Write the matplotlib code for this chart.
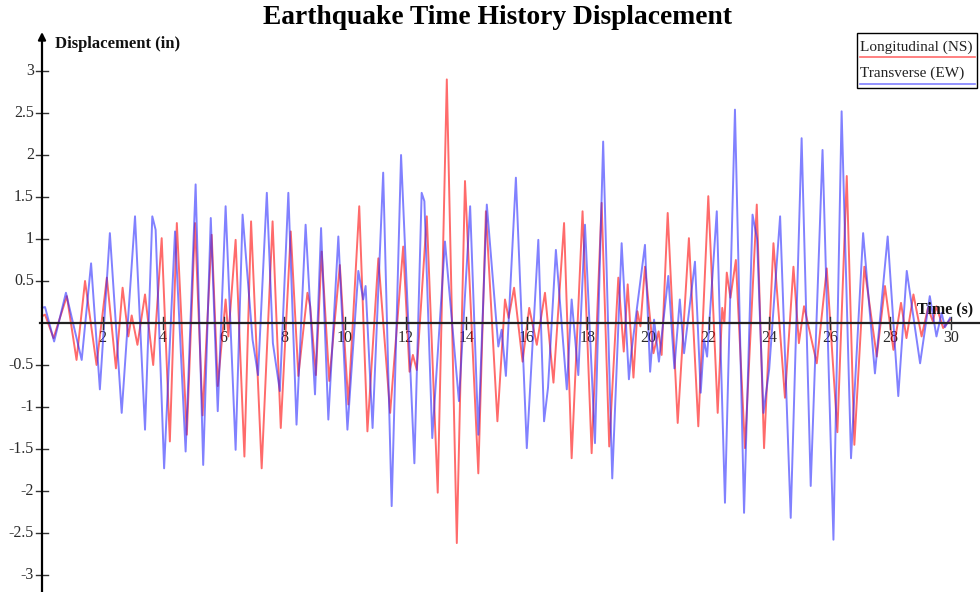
import matplotlib
matplotlib.use("Agg")
import matplotlib.pyplot as plt
from matplotlib.patches import Rectangle

# ---------------- data ----------------
ew_t = [0.0, 0.1, 0.4, 0.79, 1.31, 1.62, 1.91, 2.24, 2.63, 3.07,
        3.40, 3.64, 3.75, 4.03, 4.39, 4.74, 5.07, 5.32, 5.57, 5.80,
        6.06, 6.39, 6.62, 6.95, 7.13, 7.42, 7.62, 7.85, 8.13, 8.40,
        8.70, 9.01, 9.21, 9.45, 9.78, 10.08, 10.44, 10.60, 10.68, 10.91,
        11.26, 11.54, 11.85, 12.29, 12.53, 12.62, 12.88, 13.30, 13.76, 14.13,
        14.40, 14.68, 15.06, 15.17, 15.31, 15.64, 16.00, 16.38, 16.57, 16.70,
        16.96, 17.32, 17.48, 17.70, 17.92, 18.25, 18.52, 18.82, 19.13, 19.37,
        19.45, 19.90, 20.07, 20.20, 20.36, 20.67, 20.87, 21.05, 21.19, 21.55,
        21.74, 21.85, 21.95, 22.27, 22.54, 22.87, 23.17, 23.45, 23.60, 23.81,
        24.00, 24.36, 24.71, 25.07, 25.37, 25.76, 26.12, 26.39, 26.70, 27.10,
        27.49, 27.91, 28.26, 28.54, 28.98, 29.30, 29.52, 29.69, 29.80, 29.97]
ew_v = [0.18, 0.19, -0.22, 0.36, -0.44, 0.71, -0.79, 1.07, -1.07, 1.27,
        -1.27, 1.27, 1.11, -1.73, 1.09, -1.53, 1.65, -1.69, 1.25, -1.05,
        1.39, -1.51, 1.29, -0.20, -0.62, 1.55, -0.24, -0.81, 1.55, -1.21,
        1.17, -0.85, 1.13, -1.15, 1.03, -1.27, 0.62, 0.28, 0.44, -1.25,
        1.79, -2.18, 2.00, -1.67, 1.55, 1.45, -1.37, 0.97, -0.93, 1.39,
        -1.33, 1.41, -0.28, -0.08, -0.63, 1.73, -1.49, 0.99, -1.17, -0.77,
        0.87, -0.79, 0.28, -0.62, 1.17, -1.43, 2.16, -1.85, 0.95, -0.67,
        -0.35, 0.93, -0.58, 0.04, -0.46, 0.56, -0.54, 0.28, -0.36, 0.73,
        -0.83, -0.20, -0.40, 1.33, -2.14, 2.54, -2.26, 1.29, 1.00, -1.07,
        -0.55, 1.27, -2.32, 2.20, -1.94, 2.06, -2.58, 2.52, -1.61, 1.07,
        -0.60, 1.03, -0.87, 0.62, -0.48, 0.32, -0.16, 0.12, -0.05, 0.06]

ns_t = [0.0, 0.1, 0.38, 0.82, 1.14, 1.42, 1.80, 2.14, 2.44, 2.66,
        2.85, 2.96, 3.15, 3.40, 3.67, 3.95, 4.22, 4.45, 4.78, 5.05,
        5.30, 5.60, 5.80, 6.06, 6.15, 6.39, 6.68, 6.90, 7.25, 7.61,
        7.88, 8.21, 8.46, 8.76, 8.85, 9.04, 9.23, 9.48, 9.83, 10.11,
        10.47, 10.74, 11.10, 11.49, 11.92, 12.13, 12.24, 12.37, 12.70, 13.06,
        13.36, 13.69, 13.96, 14.40, 14.65, 15.03, 15.28, 15.40, 15.58, 15.86,
        16.08, 16.33, 16.60, 16.88, 17.23, 17.48, 17.84, 18.14, 18.47, 18.72,
        19.02, 19.20, 19.33, 19.52, 19.65, 19.75, 19.90, 20.18, 20.35, 20.45,
        20.65, 20.98, 21.35, 21.66, 21.99, 22.30, 22.45, 22.52, 22.60, 22.72,
        22.90, 23.20, 23.59, 23.83, 24.14, 24.52, 24.80, 24.98, 25.15, 25.57,
        25.90, 26.25, 26.56, 26.81, 27.14, 27.55, 27.82, 28.10, 28.35, 28.53,
        28.76, 29.03, 29.24, 29.40, 29.52, 29.74, 29.97]
ns_v = [0.08, 0.10, -0.18, 0.32, -0.44, 0.50, -0.50, 0.54, -0.54, 0.42,
        -0.16, 0.09, -0.26, 0.34, -0.50, 1.01, -1.41, 1.19, -1.33, 1.19,
        -1.10, 1.05, -0.75, 0.28, -0.16, 0.99, -1.59, 1.21, -1.73, 1.21,
        -1.25, 1.09, -0.63, 0.36, 0.20, -0.62, 0.85, -0.69, 0.69, -0.97,
        1.39, -1.29, 0.77, -1.07, 0.91, -0.58, -0.38, -0.56, 1.27, -2.02,
        2.90, -2.62, 1.69, -1.79, 1.33, -1.17, 0.28, 0.06, 0.42, -0.46,
        0.18, -0.26, 0.36, -0.71, 1.19, -1.61, 1.33, -1.55, 1.43, -1.47,
        0.54, -0.34, 0.46, -0.65, 0.14, -0.04, 0.67, -0.36, -0.10, -0.38,
        1.31, -1.19, 1.01, -1.23, 1.51, -1.07, 0.18, 0.00, 0.60, 0.30,
        0.75, -1.49, 1.41, -1.49, 0.95, -0.89, 0.67, -0.24, 0.20, -0.48,
        0.65, -1.30, 1.75, -1.45, 0.67, -0.40, 0.44, -0.32, 0.24, -0.18,
        0.34, -0.16, 0.18, 0.02, 0.20, -0.06, 0.04]

y_ticks = [3, 2.5, 2, 1.5, 1, 0.5, -0.5, -1, -1.5, -2, -2.5, -3]
y_tick_labels = ["3", "2.5", "2", "1.5", "1", "0.5", "-0.5", "-1", "-1.5", "-2", "-2.5", "-3"]
x_ticks = [2, 4, 6, 8, 10, 12, 14, 16, 18, 20, 22, 24, 26, 28, 30]
x_tick_labels = [str(v) for v in x_ticks]

title = "Earthquake Time History Displacement"
y_label = "Displacement (in)"
x_label = "Time (s)"
series_names = ["Longitudinal (NS)", "Transverse (EW)"]

# ---------------- figure ----------------
W, H = 980, 592
fig = plt.figure(figsize=(W / 100, H / 100), dpi=100)
ax = fig.add_axes([0, 0, 1, 1])
X0, XS = 42.0, 30.3     # pixel of t=0, pixels per second
Y0, YS = 323.0, 84.0    # pixel of v=0, pixels per inch
ax.set_xlim(-X0 / XS, (W - X0) / XS)
ax.set_ylim((Y0 - H) / YS, Y0 / YS)
ax.axis("off")

def pt(px):
    return (px - X0) / XS

def pv(py):
    return (Y0 - py) / YS

serif = ["Liberation Serif", "DejaVu Serif"]
red = (1.0, 0.0, 0.0, 0.58)
blue = (0.15, 0.15, 1.0, 0.58)

ax.plot(ns_t, ns_v, color=red, lw=1.4, zorder=3, solid_joinstyle="round")
ax.plot(ew_t, ew_v, color=blue, lw=1.4, zorder=4, solid_joinstyle="round")

# axes lines
ax.plot([pt(40), pt(979)], [0, 0], color="#222222", lw=1.6, zorder=5)
ax.annotate("", xy=(0, pv(32)), xytext=(0, pv(592)),
            arrowprops=dict(arrowstyle="-|>", color="black", lw=1.6,
                            mutation_scale=11, shrinkA=0, shrinkB=0), zorder=6)

# y ticks
for v, lab in zip(y_ticks, y_tick_labels):
    ax.plot([pt(36), pt(48)], [v, v], color="#333333", lw=1.0, zorder=5)
    ax.text(pt(34), v, lab, ha="right", va="center", fontsize=11.5,
            family=serif, color="#2a2a2a")

# x ticks
for t, lab in zip(x_ticks, x_tick_labels):
    ax.plot([t, t], [pv(317), pv(329)], color="#333333", lw=1.0, zorder=5)
    ax.text(t, pv(338), lab, ha="center", va="center", fontsize=11.5,
            family=serif, color="#2a2a2a", zorder=2)

# labels & title
ax.text(pt(497), pv(18), title, ha="center", va="center", fontsize=19.8,
        fontweight="bold", family=serif, color="black")
ax.text(pt(55), pv(44), y_label, ha="left", va="center", fontsize=12,
        fontweight="bold", family=serif, color="#111111")
ax.text(pt(917), pv(309), x_label, ha="left", va="center", fontsize=11.5,
        fontweight="bold", family=serif, color="#111111", zorder=7)

# legend box
ax.add_patch(Rectangle((pt(857), pv(88)), pt(977) - pt(857), pv(33) - pv(88),
                       facecolor="white", edgecolor="black", lw=1.0, zorder=8))
ax.text(pt(860), pv(47), series_names[0], ha="left", va="center", fontsize=11,
        family=serif, color="#222222", zorder=9)
ax.plot([pt(860), pt(975)], [pv(57), pv(57)], color=red, lw=1.2, zorder=9)
ax.text(pt(860), pv(73), series_names[1], ha="left", va="center", fontsize=11,
        family=serif, color="#222222", zorder=9)
ax.plot([pt(860), pt(975)], [pv(84), pv(84)], color=blue, lw=1.2, zorder=9)

fig.savefig("out.png", dpi=100, facecolor="white")
